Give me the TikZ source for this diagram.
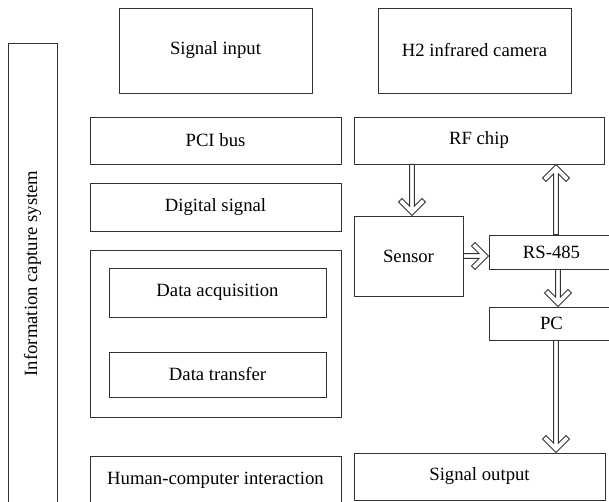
\documentclass[tikz,border=0pt]{standalone}
\usepackage{fontspec}
\setmainfont{Liberation Serif}
\usetikzlibrary{calc, arrows.meta, positioning}

\begin{document}
\begin{tikzpicture}[x=1pt, y=-1pt,
  box/.style={draw=black!80, line width=0.9pt, inner sep=0pt, align=center,
    font=\fontsize{18.7}{22}\selectfont},
  % outlined block arrow, tip on the target
  hollow/.style={draw=black!80, line width=0.9pt, fill=white, line join=miter,
    to path={let \p1=(\tikztostart), \p2=(\tikztotarget),
      \n1={veclen(\x2-\x1,\y2-\y1)}, \n2={(\x2-\x1)/\n1}, \n3={(\y2-\y1)/\n1} in
      (\p2) -- ({\x2-13.5*(\n2)-13.5*(\n3)},{\y2-13.5*(\n3)+13.5*(\n2)})
      -- ({\x2-17*(\n2)-10*(\n3)},{\y2-17*(\n3)+10*(\n2)})
      -- ({\x2-9.5*(\n2)-2.4*(\n3)},{\y2-9.5*(\n3)+2.4*(\n2)})
      -- ({\x1-2.4*(\n3)},{\y1+2.4*(\n2)})
      -- ({\x1+2.4*(\n3)},{\y1-2.4*(\n2)})
      -- ({\x2-9.5*(\n2)+2.4*(\n3)},{\y2-9.5*(\n3)-2.4*(\n2)})
      -- ({\x2-17*(\n2)+10*(\n3)},{\y2-17*(\n3)-10*(\n2)})
      -- ({\x2-13.5*(\n2)+13.5*(\n3)},{\y2-13.5*(\n3)-13.5*(\n2)})
      -- cycle}}]
  \useasboundingbox (0,0) rectangle (609,502);

  % --- Capture system (left column) ---
  \node[box, rotate=90, minimum width=461pt, minimum height=49pt] (cap) at (32.5,273.5) {Information capture system};
  \node[box, minimum width=193pt, minimum height=85pt] (sigin) at (215.5,50.5) {Signal input};
  \node[box, minimum width=251pt, minimum height=47pt] (pci) at (215.5,140.5) {PCI bus};
  \node[box, minimum width=251pt, minimum height=48pt] (digital) at (215.5,207) {Digital signal};
  \node[box, minimum width=251pt, minimum height=167pt] (group) at (215.5,333.5) {};
  \node[box, minimum width=217pt, minimum height=49pt] (acq) at (217.5,292.5) {Data acquisition};
  \node[box, minimum width=217pt, minimum height=45pt] (transfer) at (217.5,374.5) {Data transfer};
  \node[box, minimum width=251pt, minimum height=48pt] (hci) at (215.5,480) {Human-computer interaction};

  % --- Hardware chain (right column) ---
  \node[box, minimum width=193pt, minimum height=85pt] (camera) at (474.5,50.5) {H2 infrared camera};
  \node[box, minimum width=250pt, minimum height=47pt] (rf) at (479,140.5) {RF chip};
  \node[box, minimum width=109pt, minimum height=80pt] (sensor) at (408.5,256) {Sensor};
  \node[box, minimum width=125pt, minimum height=34pt] (rs) at (551.5,252) {RS-485};
  \node[box, minimum width=125pt, minimum height=33pt] (pc) at (551.5,323.5) {PC};
  \node[box, minimum width=251pt, minimum height=47pt] (sigout) at (479.5,476.5) {Signal output};

  % block arrows
  \coordinate (s1) at ([xshift=3.5pt]sensor.north);
  \coordinate (r1) at ([xshift=4.5pt]rs.north);
  \coordinate (r2) at ([xshift=6.5pt]rs.south);
  \coordinate (p1) at ([xshift=4.5pt]pc.south);
  \draw[hollow] (s1 |- rf.south) to (s1);
  \draw[hollow] (sensor.east) to (sensor.east -| rs.west);
  \draw[hollow] (r1) to (r1 |- rf.south);
  \draw[hollow] (r2) to (r2 |- pc.north);
  \draw[hollow] (p1) to (p1 |- sigout.north);
\end{tikzpicture}
\end{document}
